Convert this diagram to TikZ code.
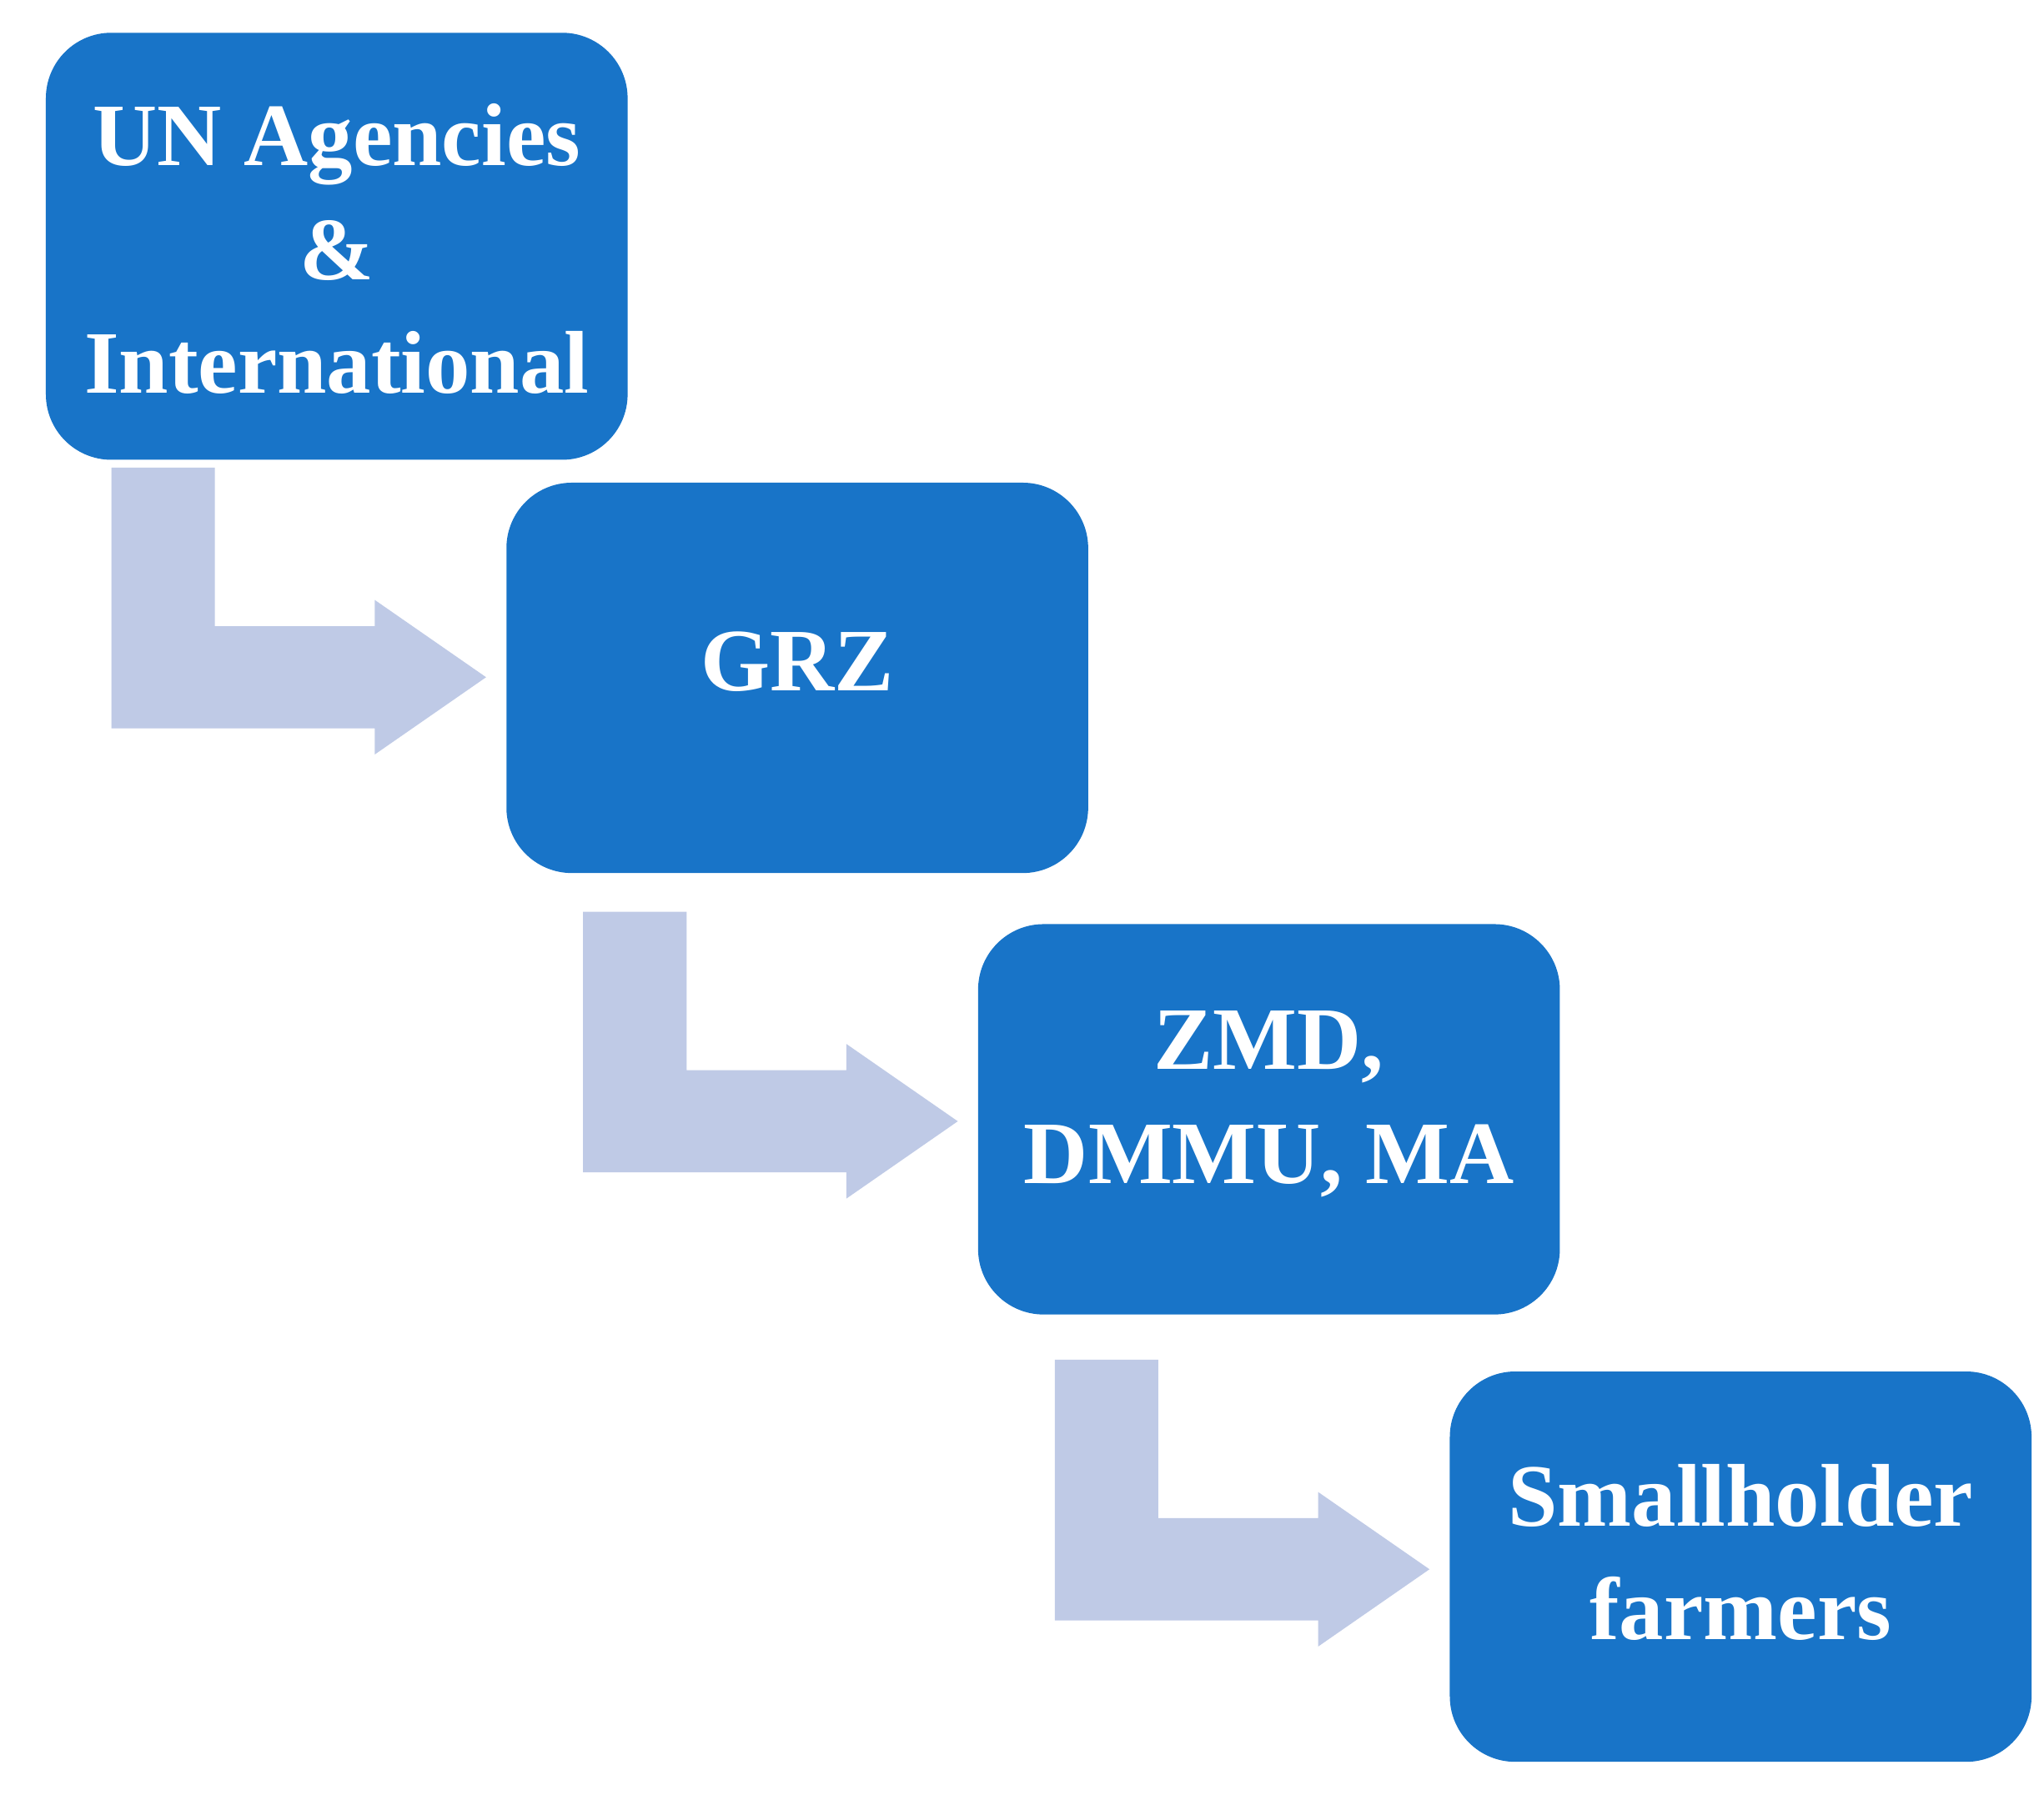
\documentclass[tikz,border=0pt]{standalone}
\usepackage{fontspec}
\setmainfont{Liberation Serif}
\definecolor{boxblue}{HTML}{1874C8}
\definecolor{arrowblue}{HTML}{BFCAE6}
\begin{document}
\begin{tikzpicture}[x=0.5pt,y=-0.5pt,
  box/.style={fill=boxblue,draw=none,rounded corners=25pt,minimum width=222pt,minimum height=149pt,inner sep=0pt},
  lbl/.style={text=white,font=\fontsize{34}{43.5}\selectfont\bfseries,align=center},
  bent/.style={fill=arrowblue,draw=none}]
\useasboundingbox (0,0) rectangle (1560,1370);
\node[box,minimum height=163pt] (b1) at (257,188) {};
\node[box] (b2) at (608.5,517.5) {};
\node[box] (b3) at (968.5,854.5) {};
\node[box] (b4) at (1328.5,1196) {};
\node[lbl] (t1) at (257,190) {UN Agencies\\\&\\International};
\node[lbl] (t2) at (608.5,505) {GRZ};
\node[lbl] (t3) at (968.5,843) {ZMD,\\DMMU, MA};
\node[lbl] (t4) at (1328.5,1185) {Smallholder\\farmers};
\foreach \dx/\dy in {0/0,360/339,720/681}{
  \fill[bent] (85+\dx,357+\dy) -- (164+\dx,357+\dy) -- (164+\dx,478+\dy) -- (286+\dx,478+\dy) -- (286+\dx,458+\dy) -- (371+\dx,517+\dy) -- (286+\dx,576+\dy) -- (286+\dx,556+\dy) -- (85+\dx,556+\dy) -- cycle;
}
\end{tikzpicture}
\end{document}
